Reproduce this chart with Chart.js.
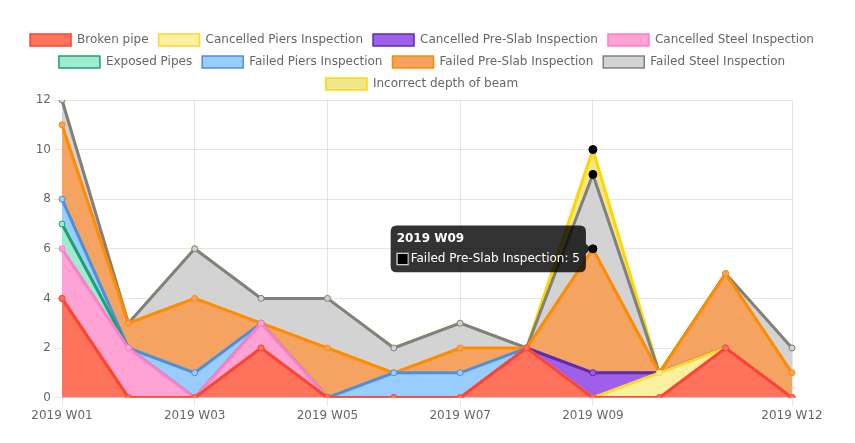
<!DOCTYPE html>
<html>
<head>
<meta charset="utf-8">
<script src="https://cdn.jsdelivr.net/npm/chart.js@4/dist/chart.umd.min.js"></script>
<style>
  html, body { margin: 0; padding: 0; background: #fff; }
  #wrap { width: 855px; height: 443px; }
</style>
</head>
<body>
<div id="wrap"><canvas id="chart"></canvas></div>
<script>
Chart.defaults.font.size = 12;
Chart.defaults.font.family = "'DejaVu Sans', sans-serif";
Chart.defaults.color = "#666";

// Data ---

const weeks = [
  "2019 W01", "2019 W02", "2019 W03", "2019 W04", "2019 W05", "2019 W06",
  "2019 W07", "2019 W08", "2019 W09", "2019 W10", "2019 W11", "2019 W12",
];

const brokenPipe        = [4, 0, 0, 2, 0, 0, 0, 2, 0, 0, 2, 0];
const cancelledPiers    = [0, 0, 0, 0, 0, 0, 0, 0, 0, 1, 0, 0];
const cancelledPreSlab  = [0, 0, 0, 0, 0, 0, 0, 0, 1, 0, 0, 0];
const cancelledSteel    = [2, 2, 0, 1, 0, 0, 0, 0, 0, 0, 0, 0];
const exposedPipes      = [1, 0, 0, 0, 0, 0, 0, 0, 0, 0, 0, 0];
const failedPiers       = [1, 0, 1, 0, 0, 1, 1, 0, 0, 0, 0, 0];
const failedPreSlab     = [3, 1, 3, 0, 2, 0, 1, 0, 5, 0, 3, 1];
const failedSteel       = [1, 0, 2, 1, 2, 1, 1, 0, 3, 0, 0, 1];
const incorrectDepth    = [0, 0, 0, 0, 0, 0, 0, 0, 1, 0, 0, 0];

// weeks that keep a label and grid line
const shownWeeks = [0, 2, 4, 6, 8, 11];

const series = [
  { label: "Broken pipe",                data: brokenPipe,       fill: "#ff725c", line: "#ff4136" },
  { label: "Cancelled Piers Inspection", data: cancelledPiers,   fill: "#faf0a0", line: "#ffd52e" },
  { label: "Cancelled Pre-Slab Inspection", data: cancelledPreSlab, fill: "#a05feb", line: "#5b2da8" },
  { label: "Cancelled Steel Inspection", data: cancelledSteel,   fill: "#ffa3d5", line: "#ff7ec8" },
  { label: "Exposed Pipes",              data: exposedPipes,     fill: "#a0ebcf", line: "#1aa36e" },
  { label: "Failed Piers Inspection",    data: failedPiers,      fill: "#99ccff", line: "#4d8fdf" },
  { label: "Failed Pre-Slab Inspection", data: failedPreSlab,    fill: "#f4a460", line: "#ff8c00" },
  { label: "Failed Steel Inspection",    data: failedSteel,      fill: "#d3d3d3", line: "#808080" },
  { label: "Incorrect depth of beam",    data: incorrectDepth,   fill: "#f0e68c", line: "#ffd700" },
];

const datasets = series.map((s, i) => ({
  label: s.label,
  data: s.data,
  backgroundColor: s.fill,
  borderColor: s.line,
  borderWidth: 3,
  pointRadius: 3,
  pointBorderWidth: 1,
  pointHoverRadius: 4,
  pointHoverBackgroundColor: "#000",
  pointHoverBorderColor: "#000",
  tension: 0,
  fill: i === 0 ? "origin" : "-1",
}));

// Chart ---

const chart = new Chart(document.getElementById("chart"), {
  type: "line",
  data: { labels: weeks, datasets: datasets },
  options: {
    animation: false,
    responsive: true,
    maintainAspectRatio: false,
    events: [],
    layout: {
      padding: { top: 24, right: 11, bottom: 17, left: 0 },
    },
    interaction: { mode: "nearest", intersect: true },
    plugins: {
      legend: {
        labels: {
          color: "#666",
          boxWidth: 41,
          padding: 10,
          generateLabels: (chart) => {
            const items = Chart.defaults.plugins.legend.labels.generateLabels(chart);
            items.forEach((it) => { it.lineWidth = 1.5; });
            return items;
          },
        },
      },
      tooltip: {
        backgroundColor: "rgba(0,0,0,0.8)",
        callbacks: {
          labelColor: () => ({ borderColor: "#999", backgroundColor: "#000" }),
        },
      },
    },
    scales: {
      x: {
        afterBuildTicks: (axis) => {
          axis.ticks = axis.ticks.filter((t) => shownWeeks.includes(t.value));
        },
        ticks: { autoSkip: false, maxRotation: 0, minRotation: 0 },
      },
      y: {
        stacked: true,
        min: 0,
        max: 12,
        ticks: { stepSize: 2 },
        afterFit: (axis) => { axis.width = 62; },
      },
      // empty right gutter
      yRight: {
        position: "right",
        display: true,
        grid: { display: false },
        border: { display: false },
        ticks: { display: false },
        afterFit: (axis) => { axis.width = 52; },
      },
    },
  },
});

// hovered state from the picture: W09, Failed Pre-Slab Inspection
const pt = chart.getDatasetMeta(6).data[8];
chart.setActiveElements([
  { datasetIndex: 6, index: 8 },
  { datasetIndex: 7, index: 8 },
  { datasetIndex: 8, index: 8 },
]);
chart.tooltip.setActiveElements([{ datasetIndex: 6, index: 8 }], { x: pt.x, y: pt.y });
chart.update();
</script>
</body>
</html>
